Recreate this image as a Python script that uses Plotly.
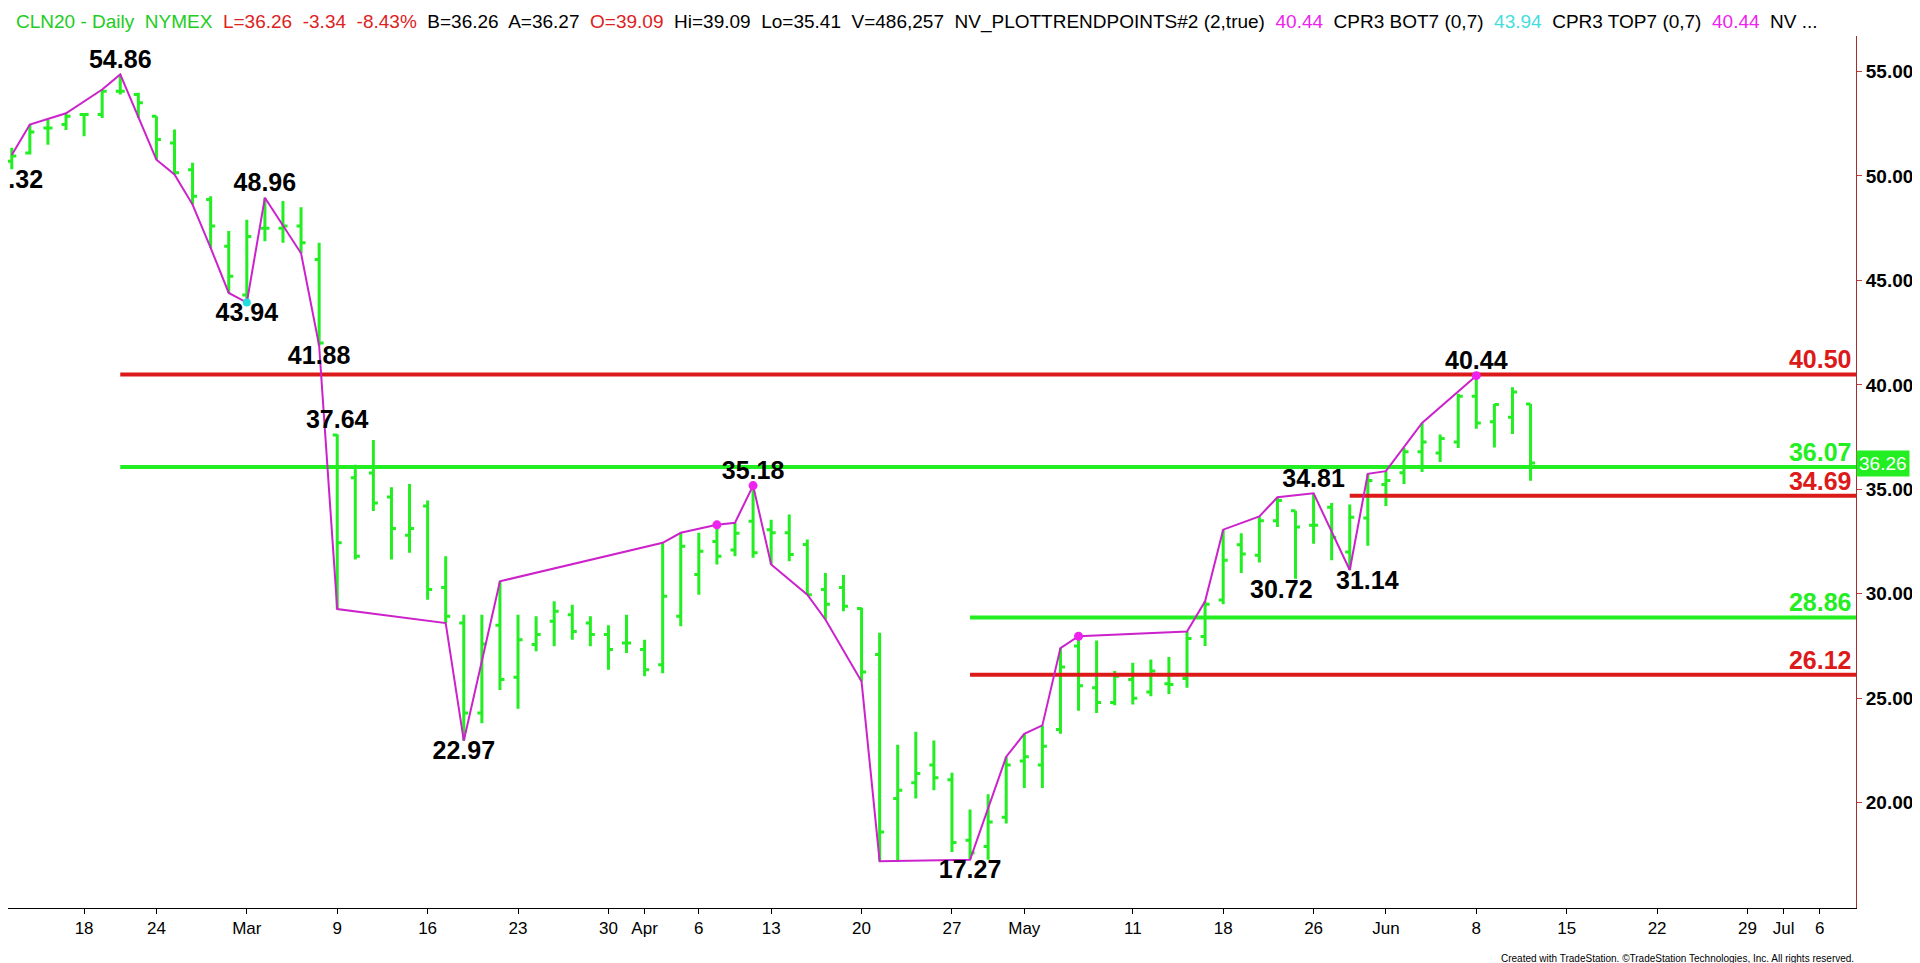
import plotly.graph_objects as go

# daily bars, CLN20
dates = ["2020-02-11", "2020-02-12", "2020-02-13", "2020-02-14", "2020-02-18", "2020-02-19",
         "2020-02-20", "2020-02-21", "2020-02-24", "2020-02-25", "2020-02-26", "2020-02-27",
         "2020-02-28", "2020-03-02", "2020-03-03", "2020-03-04", "2020-03-05", "2020-03-06",
         "2020-03-09", "2020-03-10", "2020-03-11", "2020-03-12", "2020-03-13", "2020-03-16",
         "2020-03-17", "2020-03-18", "2020-03-19", "2020-03-20", "2020-03-23", "2020-03-24",
         "2020-03-25", "2020-03-26", "2020-03-27", "2020-03-30", "2020-03-31", "2020-04-01",
         "2020-04-02", "2020-04-03", "2020-04-06", "2020-04-07", "2020-04-08", "2020-04-09",
         "2020-04-13", "2020-04-14", "2020-04-15", "2020-04-16", "2020-04-17", "2020-04-20",
         "2020-04-21", "2020-04-22", "2020-04-23", "2020-04-24", "2020-04-27", "2020-04-28",
         "2020-04-29", "2020-04-30", "2020-05-01", "2020-05-04", "2020-05-05", "2020-05-06",
         "2020-05-07", "2020-05-08", "2020-05-11", "2020-05-12", "2020-05-13", "2020-05-14",
         "2020-05-15", "2020-05-18", "2020-05-19", "2020-05-20", "2020-05-21", "2020-05-22",
         "2020-05-26", "2020-05-27", "2020-05-28", "2020-05-29", "2020-06-01", "2020-06-02",
         "2020-06-03", "2020-06-04", "2020-06-05", "2020-06-08", "2020-06-09", "2020-06-10",
         "2020-06-11"]
opens = [50.70, 51.10, 52.30, 52.46, 52.94, 52.94, 54.06, 53.90, 52.86, 51.58, 50.30, 48.87,
         46.64, 44.30, 47.50, 47.50, 47.60, 46.00, 37.60, 35.55, 35.78, 34.63, 32.80, 34.20,
         30.30, 28.60, 24.30, 28.50, 26.00, 27.57, 28.68, 29.00, 28.60, 28.05, 27.65, 27.33,
         26.60, 28.93, 30.92, 32.50, 32.10, 33.47, 33.07, 32.92, 32.36, 30.20, 30.30, 29.30,
         27.10, 20.20, 20.95, 21.80, 21.10, 18.20, 17.90, 19.30, 22.00, 21.80, 23.50, 27.50,
         25.50, 24.80, 25.90, 25.30, 25.70, 25.95, 27.96, 29.70, 32.35, 31.85, 33.50, 33.98,
         33.28, 34.14, 32.00, 33.63, 35.23, 35.79, 36.80, 36.74, 37.27, 39.46, 38.23, 38.45,
         39.09]
highs = [51.35, 52.46, 52.70, 53.00, 53.00, 54.14, 54.86, 53.98, 52.86, 52.22, 50.63, 49.03,
         47.36, 47.90, 48.96, 48.80, 48.50, 46.80, 37.64, 36.18, 37.36, 35.10, 35.26, 34.46,
         31.80, 29.00, 29.00, 30.60, 29.00, 28.93, 29.64, 29.48, 28.93, 28.50, 29.00, 27.80,
         32.44, 32.92, 32.92, 33.40, 33.40, 35.18, 33.55, 33.80, 32.60, 31.00, 30.90, 29.33,
         28.13, 22.78, 23.40, 22.98, 21.43, 19.67, 20.40, 22.20, 23.30, 23.70, 27.40, 27.97,
         27.76, 26.30, 26.70, 26.85, 26.97, 28.20, 29.64, 33.07, 32.90, 33.70, 34.62, 33.98,
         34.81, 34.35, 34.27, 35.74, 35.87, 36.98, 38.18, 37.62, 39.57, 40.44, 39.09, 39.89,
         39.09]
lows = [50.32, 51.03, 51.50, 52.20, 51.90, 52.78, 53.90, 52.78, 50.78, 50.07, 48.63, 46.56,
        44.40, 43.94, 46.88, 46.80, 46.30, 41.88, 29.27, 31.64, 33.96, 31.64, 31.96, 29.72,
        28.60, 22.97, 23.80, 25.40, 24.50, 27.25, 27.49, 27.80, 27.49, 26.37, 27.17, 26.05,
        26.20, 28.45, 29.96, 31.40, 31.80, 31.72, 31.40, 31.56, 29.96, 28.77, 29.17, 25.80,
        17.20, 17.20, 20.20, 20.60, 17.64, 17.27, 17.27, 19.00, 20.70, 20.70, 23.30, 24.40,
        24.30, 24.67, 24.70, 25.10, 25.20, 25.50, 27.50, 29.50, 31.00, 31.50, 33.20, 30.72,
        32.40, 31.60, 31.14, 32.30, 34.20, 35.26, 35.83, 36.31, 36.98, 37.90, 37.00, 37.65,
        35.41]
closes = [50.95, 52.10, 52.30, 52.86, 52.94, 54.06, 54.06, 53.50, 51.74, 50.15, 49.03, 47.60,
          45.20, 47.10, 47.50, 47.60, 46.80, 42.00, 32.44, 31.80, 34.35, 33.12, 33.12, 30.20,
          28.93, 24.30, 27.60, 25.90, 27.80, 28.05, 29.17, 28.20, 28.05, 27.33, 27.65, 26.37,
          29.88, 32.28, 32.04, 31.80, 32.90, 31.96, 32.92, 31.88, 29.96, 29.50, 29.40, 26.26,
          18.60, 20.60, 21.40, 21.20, 18.10, 17.60, 19.08, 21.80, 22.20, 22.70, 26.50, 25.60,
          24.80, 26.05, 25.00, 26.30, 25.66, 27.86, 29.50, 31.60, 31.90, 33.50, 34.46, 33.20,
          33.28, 32.70, 33.66, 35.42, 35.42, 36.80, 37.27, 37.43, 39.46, 38.18, 39.06, 39.66,
          36.26]

# trend line through swing points
swing_dates = ["2020-02-11", "2020-02-12", "2020-02-14", "2020-02-19", "2020-02-20", "2020-02-21",
               "2020-02-24", "2020-02-25", "2020-02-26", "2020-02-27", "2020-02-28", "2020-03-02",
               "2020-03-03", "2020-03-05", "2020-03-06", "2020-03-09", "2020-03-17", "2020-03-18",
               "2020-03-20", "2020-04-02", "2020-04-03", "2020-04-07", "2020-04-08", "2020-04-09",
               "2020-04-13", "2020-04-15", "2020-04-16", "2020-04-20", "2020-04-21", "2020-04-28",
               "2020-04-30", "2020-05-01", "2020-05-04", "2020-05-05", "2020-05-06", "2020-05-14",
               "2020-05-15", "2020-05-18", "2020-05-20", "2020-05-21", "2020-05-26", "2020-05-28",
               "2020-05-29", "2020-06-01", "2020-06-03", "2020-06-08"]
swing_prices = [51.0, 52.46, 53.0, 54.14, 54.86, 52.78, 50.78, 50.07, 48.63, 46.56, 44.4, 43.94,
                48.96, 46.3, 41.88, 29.27, 28.6, 22.97, 30.6, 32.44, 32.92, 33.3, 33.4, 35.18,
                31.4, 29.96, 28.77, 25.8, 17.2, 17.27, 22.2, 23.3, 23.7, 27.4, 27.97, 28.2,
                29.64, 33.07, 33.7, 34.62, 34.81, 31.14, 35.74, 35.87, 38.18, 40.44]
dot_dates = ["2020-04-07", "2020-04-09", "2020-05-06", "2020-06-08"]
dot_prices = [33.3, 35.18, 27.97, 40.44]

# swing labels
top_dates = ["2020-02-20", "2020-03-03", "2020-03-09", "2020-04-09", "2020-05-26", "2020-06-08"]
top_prices = [54.86, 48.96, 37.64, 35.18, 34.81, 40.44]
bot_dates = ["2020-02-11", "2020-03-02", "2020-03-18", "2020-04-28"]
bot_prices = [50.32, 43.94, 22.97, 17.27]
side_dates = ["2020-05-22", "2020-05-28"]
side_prices = [30.72, 31.14]

# horizontal levels
level_values = [40.50, 36.07, 34.69, 28.86, 26.12]
level_starts = ["2020-02-20", "2020-02-20", "2020-05-28", "2020-04-28", "2020-04-28"]
level_colors = ["#dd1a1a", "#22ee22", "#dd1a1a", "#22ee22", "#dd1a1a"]
x_end = "2020-07-08"

tick_dates = ["2020-02-18", "2020-02-24", "2020-03-02", "2020-03-09", "2020-03-16", "2020-03-23",
              "2020-03-30", "2020-04-01", "2020-04-06", "2020-04-13", "2020-04-20", "2020-04-27",
              "2020-05-01", "2020-05-11", "2020-05-18", "2020-05-26", "2020-06-01", "2020-06-08",
              "2020-06-15", "2020-06-22", "2020-06-29", "2020-07-01", "2020-07-06"]
tick_text = ["18", "24", "Mar", "9", "16", "23", "30", "Apr", "6", "13", "20", "27", "May", "11",
             "18", "26", "Jun", "8", "15", "22", "29", "Jul", "6"]

GREEN = "#22ee22"
BOLD = "Liberation Sans Bold, Liberation Sans, Arial"
fig = go.Figure()

for v, s, c in zip(level_values, level_starts, level_colors):
    fig.add_trace(go.Scatter(x=[s, x_end], y=[v, v], mode="lines",
                             line=dict(color=c, width=4), hoverinfo="skip"))
    fig.add_trace(go.Scatter(x=["2020-07-07 18:00"], y=[v], mode="text", text=[f"<b>{v:.2f}</b>"],
                             textposition="top left", cliponaxis=False,
                             textfont=dict(family=BOLD, size=25, color=c)))

fig.add_trace(go.Ohlc(x=dates, open=opens, high=highs, low=lows, close=closes, tickwidth=0.25,
                      increasing=dict(line=dict(color=GREEN, width=3)),
                      decreasing=dict(line=dict(color=GREEN, width=3))))

fig.add_trace(go.Scatter(x=swing_dates, y=swing_prices, mode="lines",
                         line=dict(color="#cc22cc", width=2)))
fig.add_trace(go.Scatter(x=dot_dates, y=dot_prices, mode="markers",
                         marker=dict(color="#ee22ee", size=9)))
fig.add_trace(go.Scatter(x=["2020-03-02"], y=[43.94], mode="markers",
                         marker=dict(color="#22dddd", size=8)))

fig.add_trace(go.Scatter(x=top_dates, y=top_prices, mode="text",
                         text=[f"<b>{p:.2f}</b>" for p in top_prices],
                         textposition="top center", cliponaxis=True,
                         textfont=dict(family=BOLD, size=25, color="black")))
fig.add_trace(go.Scatter(x=bot_dates, y=bot_prices, mode="text",
                         text=[f"<b>{p:.2f}</b>" for p in bot_prices],
                         textposition="bottom center", cliponaxis=True,
                         textfont=dict(family=BOLD, size=25, color="black")))
fig.add_trace(go.Scatter(x=["2020-03-06"], y=[41.88], mode="text", text=["<b>41.88</b>"],
                         textposition="bottom center", cliponaxis=True,
                         textfont=dict(family=BOLD, size=25, color="black")))

side_notes = [dict(text=f"<b>{p:.2f}</b>", x=d, y=p, xref="x", yref="y", showarrow=False,
                   yanchor="top", xshift=s, yshift=6, font=dict(family=BOLD, size=25))
              for d, p, s in zip(side_dates, side_prices, [-14, 18])]

header = ("<span style='color:#22cc22'>CLN20 - Daily  NYMEX</span>  "
          "<span style='color:#dd2222'>L=36.26  -3.34  -8.43%</span>  "
          "B=36.26  A=36.27  <span style='color:#dd2222'>O=39.09</span>  Hi=39.09  Lo=35.41  "
          "V=486,257  NV_PLOTTRENDPOINTS#2 (2,true)  <span style='color:#ee22ee'>40.44</span>  "
          "CPR3 BOT7 (0,7)  <span style='color:#44dddd'>43.94</span>  CPR3 TOP7 (0,7)  "
          "<span style='color:#ee22ee'>40.44</span>  NV ...")

fig.update_layout(
    width=1920, height=963, showlegend=False,
    plot_bgcolor="white", paper_bgcolor="white",
    margin=dict(l=0, r=72, t=28, b=63),
    font=dict(family="Liberation Sans", color="black"),
    annotations=side_notes + [
        dict(text=header, x=0.003, y=1, xref="paper", yref="paper", xanchor="left",
             yanchor="bottom", yshift=1, showarrow=False, font=dict(size=19)),
        dict(text="36.26", x=1, y=36.26, xref="paper", yref="y", xanchor="left", showarrow=False,
             bgcolor=GREEN, font=dict(size=19, color="white"), borderpad=2),
        dict(text="Created with TradeStation. ©TradeStation Technologies, Inc. All rights reserved.",
             x=1, y=0, xref="paper", yref="paper", xanchor="right", yanchor="middle", yshift=-50,
             showarrow=False, font=dict(size=10)),
    ],
)
fig.update_xaxes(range=["2020-02-10 19:00", x_end], rangeslider_visible=False,
                 rangebreaks=[dict(bounds=["sat", "mon"]),
                              dict(values=["2020-02-17", "2020-04-10", "2020-05-25", "2020-07-03"])],
                 tickvals=tick_dates, ticktext=tick_text, ticks="outside", ticklen=5,
                 tickcolor="black", tickfont=dict(size=17), showgrid=False,
                 showline=True, linecolor="black", linewidth=1, zeroline=False)
fig.update_yaxes(range=[14.96, 56.7], side="right", tickvals=[20, 25, 30, 35, 40, 45, 50, 55],
                 ticktext=[f"<b>{v:.2f}</b>" for v in [20, 25, 30, 35, 40, 45, 50, 55]],
                 ticks="outside", ticklen=5, tickcolor="#c04040",
                 tickfont=dict(size=19), showgrid=False, showline=True, linecolor="#a03030",
                 zeroline=False)

fig.write_html("out.html")
